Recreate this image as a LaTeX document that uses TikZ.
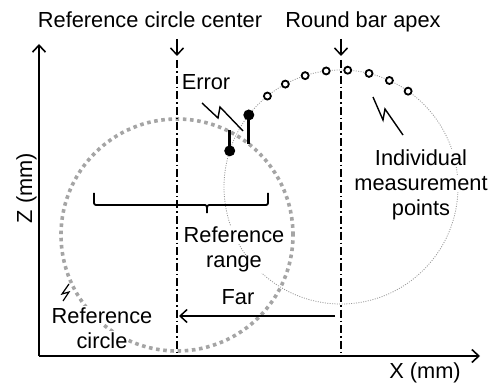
\documentclass[tikz,border=0pt]{standalone}
\usepackage{fontspec}
\setmainfont{Liberation Sans}
\usetikzlibrary{arrows.meta}
\definecolor{dotgray}{RGB}{165,165,165}
\definecolor{thingray}{RGB}{150,150,150}
\tikzset{
  lbl/.style={font=\fontsize{21.8}{24}\selectfont, inner sep=1pt, fill=white, anchor=base},
  axisline/.style={line width=1.8pt, -{Straight Barb[length=7pt,width=13pt,line width=1.6pt]}},
  pointer/.style={line width=1.5pt, -{Straight Barb[length=7pt,width=13pt,line width=1.5pt]}},
  dashdotline/.style={line width=1.8pt, dash pattern=on 8pt off 3pt on 1.6pt off 3pt},
  refcircle/.style={draw=dotgray, line width=3.6pt, dash pattern=on 3.6pt off 3.6pt},
  barcircle/.style={draw=thingray, line width=0.8pt, dash pattern=on 1pt off 1.4pt},
  openpt/.style={circle, draw, fill=white, line width=1.8pt, minimum size=7pt, inner sep=0pt},
  fullpt/.style={circle, fill=black, minimum size=11pt, inner sep=0pt},
  stem/.style={line width=2.8pt},
  callout/.style={line width=1.4pt, line join=miter},
}
\begin{document}
\begin{tikzpicture}[x=1pt,y=-1pt]
\useasboundingbox (0,0) rectangle (493,385);
% circles
\coordinate (rc) at (177,235);
\coordinate (rb) at (341,187);
\draw[refcircle] (rc) circle[radius=116pt];
\draw[barcircle] (rb) circle[radius=117pt];
% axes
\coordinate (o) at (39,356);
\coordinate (ztip) at (39,44);
\coordinate (xtip) at (480,356);
\draw[axisline] (o) -- (ztip);
\draw[axisline] (o) -- (xtip);
% center lines
\coordinate (c1top) at (177,60);
\coordinate (c1bot) at (177,356);
\coordinate (c2top) at (341,60);
\coordinate (c2bot) at (341,356);
\draw[dashdotline] (c1top) -- (c1bot);
\draw[dashdotline] (c2top) -- (c2bot);
\coordinate (a1s) at (177,39);
\coordinate (a1e) at (177,56);
\coordinate (a2s) at (341,39);
\coordinate (a2e) at (341,56);
\draw[pointer] (a1s) -- (a1e);
\draw[pointer] (a2s) -- (a2e);
% labels
\node[lbl] (tcenter) at (150,28) {Reference circle center};
\node[lbl] (tapex) at (363,28) {Round bar apex};
\node[lbl] (terror) at (206,90) {Error};
\node[lbl] (tind1) at (421,166) {Individual};
\node[lbl] (tind2) at (421,190.5) {measurement};
\node[lbl] (tind3) at (421,215) {points};
\node[lbl] (trr1) at (234,243) {Reference};
\node[lbl] (trr2) at (234,267.5) {range};
\node[lbl] (tfar) at (238,304) {Far};
\node[lbl] (trc1) at (102,323) {Reference};
\node[lbl] (trc2) at (102,348) {circle};
\node[lbl] (tx) at (425,378) {X (mm)};
\node[lbl, rotate=90] (tz) at (32,188) {Z (mm)};
% brace
\coordinate (bl) at (94,193);
\coordinate (br) at (268,193);
\coordinate (btip) at (207,213);
\draw[line width=1.8pt, rounded corners=2pt] (bl) -- (94,205) -- (203,205) .. controls (207,205) .. (btip);
\draw[line width=1.8pt, rounded corners=2pt] (btip) .. controls (207,205) .. (211,205) -- (268,205) -- (br);
% far arrow
\coordinate (fs) at (335,316);
\coordinate (fe) at (179,316);
\draw[pointer, line width=1.7pt] (fs) -- (fe);
% measurement points
\foreach \k in {0,...,7}{
  \pgfmathsetmacro{\ang}{55+\k*10.57}
  \node[openpt] (mp\k) at ({341+117*cos(\ang)},{187-117*sin(\ang)}) {};
}
% error points
\node[fullpt] (e1) at ({341+117*cos(142)},{187-117*sin(142)}) {};
\node[fullpt] (e2) at ({341+117*cos(162)},{187-117*sin(162)}) {};
\coordinate (e1r) at (e1 |- 0,144.5);
\coordinate (e2r) at (e2 |- 0,130.5);
\draw[stem] (e1.center) -- (e1r);
\draw[stem] (e2.center) -- (e2r);
% callouts
\draw[callout] (202,103) -- (218,118) -- (220,107) -- (243,131);
\draw[callout] (373,97) -- (383,120) -- (385,109) -- (403,135);
\draw[callout, line width=1.2pt] (69,284) -- (62,294) -- (69,292) -- (63,301);
\end{tikzpicture}
\end{document}
